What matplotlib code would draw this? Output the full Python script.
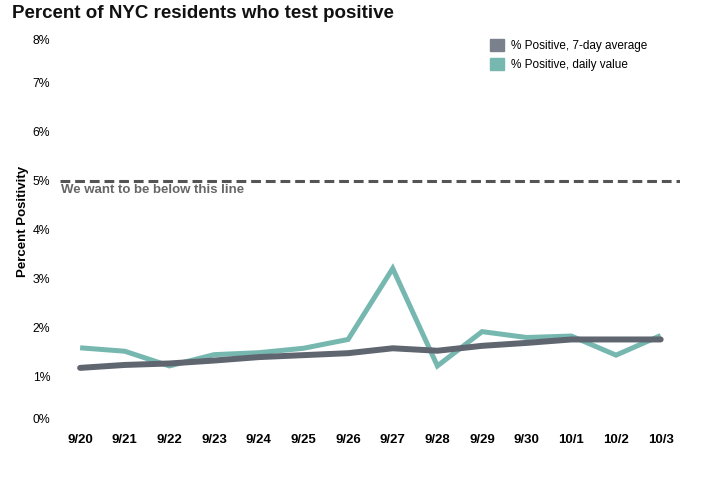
import matplotlib
matplotlib.use("Agg")
import matplotlib.pyplot as plt
import matplotlib.transforms as mtransforms
from matplotlib.patches import Patch
from matplotlib.ticker import FuncFormatter

plt.rcParams["font.family"] = ["Liberation Sans", "DejaVu Sans"]

# data
dates = ["9/20", "9/21", "9/22", "9/23", "9/24", "9/25", "9/26",
         "9/27", "9/28", "9/29", "9/30", "10/1", "10/2", "10/3"]
daily_value = [1.59, 1.52, 1.22, 1.45, 1.49, 1.58, 1.76,
               3.21, 1.22, 1.92, 1.80, 1.83, 1.44, 1.84]
seven_day_avg = [1.18, 1.24, 1.27, 1.33, 1.40, 1.44, 1.48,
                 1.58, 1.53, 1.63, 1.69, 1.76, 1.76, 1.76]
target = 5.0

teal = "#76b7b0"
gray_line = "#5f6670"
gray_patch = "#7a808c"

fig = plt.figure(figsize=(7.02, 4.78), dpi=100)
ax = fig.add_axes([0.0855, 0.1094, 0.883, 0.8201])

x = range(len(dates))
ax.plot(x, daily_value, color=teal, linewidth=3.6, solid_joinstyle="miter",
        solid_capstyle="butt", zorder=2)
ax.plot(x, seven_day_avg, color=gray_line, linewidth=4.3, solid_capstyle="round",
        zorder=3)

# threshold line
ax.axhline(target, color="#555555", linewidth=2.2, linestyle=(0, (3.2, 1.6)), zorder=1)
ax.text(-0.43, target - 0.06, "We want to be below this line", color="#666666",
        fontsize=9.5, fontweight="bold", va="top", ha="left")

ax.set_xlim(-0.45, 13.43)
ax.set_ylim(0, 8)
ax.set_xticks(list(x))
ax.set_xticklabels(dates, fontweight="bold", fontsize=9.5)
ax.set_yticks(range(0, 9))
ax.yaxis.set_major_formatter(FuncFormatter(lambda v, p: f"{int(v)}%"))
ax.tick_params(axis="y", length=0, pad=7, labelsize=8.8)
ax.tick_params(axis="x", length=0, pad=6)
for s in ax.spines.values():
    s.set_visible(False)

# end labels sit a little inside the plot area in the reference
fig.canvas.draw()
ylabels = ax.get_yticklabels()
ylabels[0].set_transform(ylabels[0].get_transform() +
                         mtransforms.ScaledTranslation(0, 7 / 100, fig.dpi_scale_trans))
ylabels[-1].set_transform(ylabels[-1].get_transform() +
                          mtransforms.ScaledTranslation(0, -6 / 100, fig.dpi_scale_trans))

ax.set_ylabel("Percent Positivity", fontsize=9.5, fontweight="bold")
ax.yaxis.set_label_coords(-0.05, 0.522)

fig.text(12 / 702, 1 - 14 / 478, "Percent of NYC residents who test positive",
         fontsize=13.5, fontweight="bold", va="center", ha="left", color="#111111")

handles = [Patch(color=gray_patch, label="% Positive, 7-day average"),
           Patch(color=teal, label="% Positive, daily value")]
fig.legend(handles=handles, loc="upper left", bbox_to_anchor=(490 / 702, 1 - 39 / 478),
           frameon=False, fontsize=8.5, borderpad=0, handlelength=1.2, handleheight=1.2,
           handletextpad=0.55, labelspacing=0.5, borderaxespad=0)

fig.savefig("out.png", dpi=100)
